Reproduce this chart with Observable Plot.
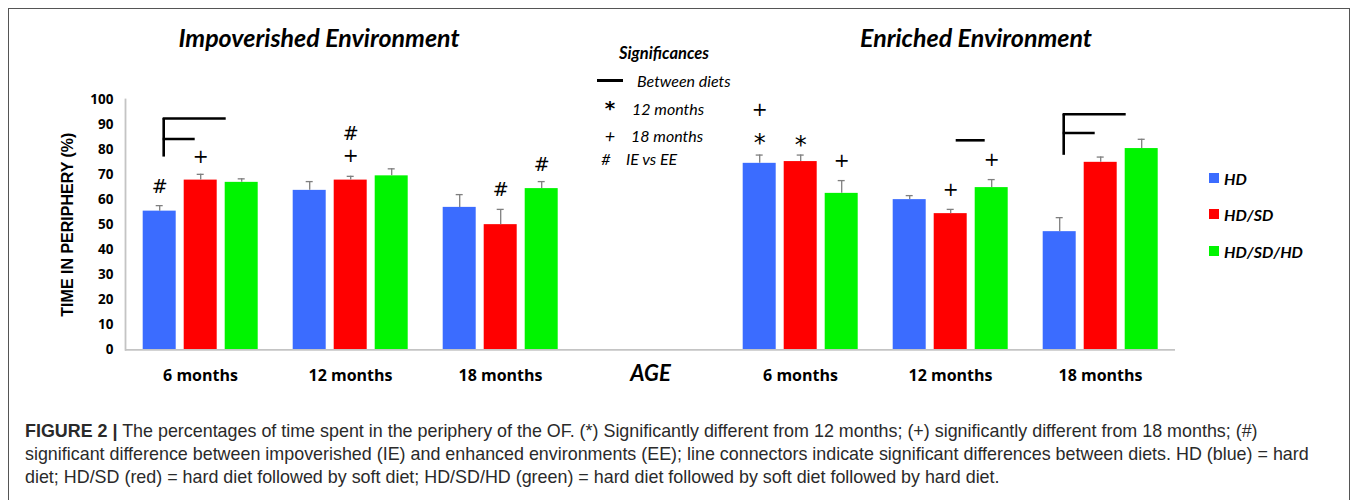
<!DOCTYPE html>
<html>
<head>
<meta charset="utf-8">
<script src="https://cdn.jsdelivr.net/npm/d3@7"></script>
<script src="https://cdn.jsdelivr.net/npm/@observablehq/plot@0.6"></script>
<style>
  html, body { margin: 0; padding: 0; background: #fff; width: 1358px; height: 500px; overflow: hidden; }
  #box { position: absolute; left: 8px; top: 8px; width: 1340px; height: 600px; border: 1.5px solid #555; }
  #chart { position: absolute; left: 0; top: 0; }
  .ov { position: absolute; transform: translate(-50%, -50%); white-space: nowrap; color: #000; font-family: Lato, "Open Sans", sans-serif; }
  .ovl { position: absolute; transform: translate(0, -50%); white-space: nowrap; color: #000; font-family: Lato, "Open Sans", sans-serif; }
  .bi { font-weight: bold; font-style: italic; }
  .it { font-style: italic; }
  .sw { position: absolute; width: 10px; height: 10px; transform: translate(0, -50%); }
  #caption { position: absolute; left: 25px; top: 420px; font-family: "Liberation Sans", Arial, sans-serif; font-size: 17.9px; line-height: 23px; color: #2a2a2a; white-space: nowrap; }
  #caption b { font-weight: bold; }
</style>
</head>
<body>
<div id="box"></div>
<div id="chart"></div>
<div id="overlay"></div>
<div id="caption">
  <div><b>FIGURE 2 |</b> The percentages of time spent in the periphery of the OF. (*) Significantly different from 12 months; (+) significantly different from 18 months; (#)</div>
  <div>significant difference between impoverished (IE) and enhanced environments (EE); line connectors indicate significant differences between diets. HD (blue) = hard</div>
  <div>diet; HD/SD (red) = hard diet followed by soft diet; HD/SD/HD (green) = hard diet followed by soft diet followed by hard diet.</div>
</div>
<script>
// ---- data ----
const ages = ["6 months", "12 months", "18 months"];
const environments = ["IE", "EE"];
const environmentTitles = ["Impoverished Environment", "Enriched Environment"];
const diets = ["HD", "HD/SD", "HD/SD/HD"];
const dietColors = ["#3b6cff", "#ff0000", "#00f400"];
const yTicks = [0, 10, 20, 30, 40, 50, 60, 70, 80, 90, 100];

// Impoverished environment: means and SEM per age
const ieHD = [55.4, 63.7, 56.9];
const ieHDSD = [67.8, 67.8, 50.0];
const ieHDSDHD = [66.9, 69.5, 64.4];
const ieHDErr = [2.2, 3.5, 5.1];
const ieHDSDErr = [2.3, 1.5, 6.1];
const ieHDSDHDErr = [1.4, 2.8, 2.8];

// Enriched environment
const eeHD = [74.5, 60.0, 47.2];
const eeHDSD = [75.2, 54.4, 74.9];
const eeHDSDHD = [62.5, 64.8, 80.4];
const eeHDErr = [3.3, 1.6, 5.6];
const eeHDSDErr = [2.6, 1.7, 2.1];
const eeHDSDHDErr = [5.1, 3.2, 3.7];

// significance symbols: [environment, age, diet, symbol, level]
const significanceMarks = [
  ["IE", "6 months", "HD", "#", 65],
  ["IE", "6 months", "HD/SD", "+", 77],
  ["IE", "12 months", "HD/SD", "+", 77.5],
  ["IE", "12 months", "HD/SD", "#", 86.4],
  ["IE", "18 months", "HD/SD", "#", 63.7],
  ["IE", "18 months", "HD/SD/HD", "#", 74],
  ["EE", "6 months", "HD", "*", 82.5],
  ["EE", "6 months", "HD", "+", 95.7],
  ["EE", "6 months", "HD/SD", "*", 81.5],
  ["EE", "6 months", "HD/SD/HD", "+", 75.6],
  ["EE", "12 months", "HD/SD", "+", 64],
  ["EE", "12 months", "HD/SD/HD", "+", 76]
];

// between-diet brackets: [environment, age, top, middle, base]
const dietBrackets = [
  ["IE", "6 months", 92.4, 84.2, 77],
  ["EE", "18 months", 94.1, 86.6, 77.7]
];
// single connectors: [environment, age, from, to, level]
const dietConnectors = [
  ["EE", "12 months", "HD/SD", "HD/SD/HD", 83.7]
];

// ---- build tables ----
const slotOf = (env, age) => env + "|" + age;
const slots = [...ages.map(a => slotOf("IE", a)), "AGE", ...ages.map(a => slotOf("EE", a))];
const series = {
  IE: [[ieHD, ieHDErr], [ieHDSD, ieHDSDErr], [ieHDSDHD, ieHDSDHDErr]],
  EE: [[eeHD, eeHDErr], [eeHDSD, eeHDSDErr], [eeHDSDHD, eeHDSDHDErr]]
};
const rows = [];
for (const env of environments) {
  ages.forEach((age, i) => {
    diets.forEach((diet, j) => {
      const [m, e] = series[env][j];
      rows.push({slot: slotOf(env, age), diet, mean: m[i], top: m[i] + e[i]});
    });
  });
}
const sigRows = significanceMarks.map(([env, age, diet, symbol, level]) => ({slot: slotOf(env, age), diet, symbol, level}));
const bracketRows = dietBrackets.map(([env, age, top, middle, base]) => ({slot: slotOf(env, age), top, middle, base}));
const connectorRows = dietConnectors.map(([env, age, from, to, level]) => ({slot: slotOf(env, age), from, to, level}));

const W = 1358, H = 400;
const lineStyle = {stroke: "#000", strokeWidth: 2.6};
const chart = Plot.plot({
  width: W,
  height: H,
  marginLeft: 123.3,
  marginRight: 182,
  marginTop: 99,
  marginBottom: 50.7,
  style: {fontFamily: "'Open Sans', sans-serif", color: "#000", background: "transparent"},
  fx: {domain: slots, paddingInner: 0, paddingOuter: 0, label: null},
  x: {domain: diets, paddingInner: 0.19, paddingOuter: 0.386, axis: null},
  y: {domain: [0, 100], label: null},
  color: {domain: diets, range: dietColors},
  marks: [
    Plot.barY(rows, {fx: "slot", x: "diet", y: "mean", fill: "diet"}),
    Plot.ruleX(rows, {fx: "slot", x: "diet", y1: "mean", y2: "top", stroke: "#7f7f7f", strokeWidth: 1.3}),
    Plot.tickY(rows, {fx: "slot", x: "diet", y: "top", stroke: "#7f7f7f", strokeWidth: 1.3, insetLeft: 13, insetRight: 13}),
    Plot.ruleY([0], {stroke: "#c4c4c4", strokeWidth: 1.8}),
    Plot.frame({anchor: "left", facetAnchor: "left", stroke: "#c4c4c4", strokeWidth: 1.8}),
    Plot.text(sigRows, {fx: "slot", x: "diet", y: "level", text: "symbol", fontSize: d => d.symbol === "*" ? 24 : 19, fontFamily: "'DejaVu Sans', sans-serif", fill: "#000"}),
    Plot.ruleX(bracketRows, {fx: "slot", x: () => "HD", y1: "base", y2: "top", dx: 4, ...lineStyle}),
    Plot.ruleY(bracketRows, {fx: "slot", x1: () => "HD", x2: () => "HD/SD/HD", y: "top", insetLeft: 20, insetRight: 32, ...lineStyle}),
    Plot.ruleY(bracketRows, {fx: "slot", x1: () => "HD", x2: () => "HD/SD", y: "middle", insetLeft: 20, insetRight: 22, ...lineStyle}),
    Plot.ruleY(connectorRows, {fx: "slot", x1: "from", x2: "to", y: "level", insetLeft: 22, insetRight: 23, ...lineStyle}),
    Plot.text([{slot: "AGE", label: "AGE"}], {fx: "slot", text: "label", frameAnchor: "bottom", dy: 31, fontSize: 22, fontWeight: "bold", fontStyle: "italic", fontFamily: "Lato, sans-serif"}),
    Plot.axisY({ticks: yTicks, tickSize: 0, tickPadding: 12, fontSize: 13.5, fontWeight: "bold", label: null}),
    Plot.axisY({ticks: [], label: "TIME IN PERIPHERY (%)", labelArrow: "none", labelAnchor: "center", labelOffset: 64, fontSize: 16, fontWeight: "bold", fontFamily: "'Liberation Sans', sans-serif"}),
    Plot.axisFx({anchor: "bottom", tickSize: 0, tickPadding: 20, fontSize: 16, fontWeight: "bold", label: null, tickFormat: d => d === "AGE" ? "" : d.split("|")[1]})
  ]
});
document.getElementById("chart").appendChild(chart);

// ---- titles and legends (overlay text) ----
const ov = document.getElementById("overlay");
function add(cls, text, x, y, style = "") {
  const el = document.createElement("div");
  el.className = cls;
  el.textContent = text;
  el.style.cssText = `left:${x}px;top:${y}px;${style}`;
  ov.appendChild(el);
  return el;
}
add("ov bi", environmentTitles[0], 319, 37, "font-size:25px");
add("ov bi", environmentTitles[1], 976, 37, "font-size:25px");

add("ov bi", "Significances", 664, 53, "font-size:16.5px");
const dash = document.createElement("div");
dash.style.cssText = "position:absolute;left:597px;top:79px;width:26px;height:2.6px;background:#000";
ov.appendChild(dash);
add("ovl it", "Between diets", 637, 80, "font-size:16px");
add("ov", "*", 610, 108, "font-size:20px;font-weight:bold;font-family:'DejaVu Sans',sans-serif");
add("ovl it", "12 months", 632, 108, "font-size:16px");
add("ov it", "+", 610, 135, "font-size:18px");
add("ovl it", "18 months", 631, 135, "font-size:16px");
add("ov it", "#", 606, 158, "font-size:16px");
add("ovl it", "IE vs EE", 626, 158, "font-size:16px");

const legendY = [178, 214, 251];
diets.forEach((d, i) => {
  const sw = document.createElement("div");
  sw.className = "sw";
  sw.style.cssText = `left:1209px;top:${legendY[i]}px;background:${dietColors[i]}`;
  ov.appendChild(sw);
  add("ovl bi", d, 1224, legendY[i], "font-size:16px");
});
</script>
</body>
</html>
